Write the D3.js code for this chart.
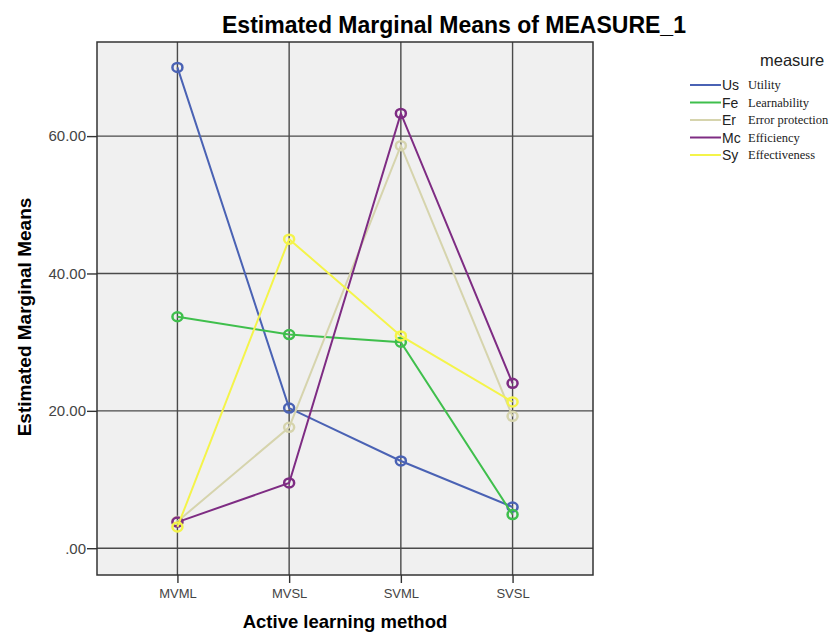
<!DOCTYPE html>
<html>
<head>
<meta charset="utf-8">
<script src="https://cdn.jsdelivr.net/npm/d3@7"></script>
<style>
  body { margin: 0; background: #fff; }
  svg { display: block; }
</style>
</head>
<body>
<script>
'use strict';

var categories = ["MVML", "MVSL", "SVML", "SVSL"];
var seriesNames = ["Utility", "Learnability", "Error protection", "Efficiency", "Effectiveness"];
var seriesShort = ["Us", "Fe", "Er", "Mc", "Sy"];
var seriesColors = ["#4a62b4", "#3fbf4c", "#d6d4ad", "#7e2c83", "#f4f44a"];
var utility = [70.0, 20.4, 12.7, 6.0];
var learnability = [33.7, 31.1, 30.0, 4.9];
var errorProtection = [3.9, 17.6, 58.6, 19.2];
var efficiency = [3.8, 9.5, 63.3, 24.0];
var effectiveness = [3.1, 45.0, 30.9, 21.3];
var yTicks = [0, 20, 40, 60];

var seriesValues = [utility, learnability, errorProtection, efficiency, effectiveness];

var width = 832, height = 633;
var margin = {top: 42, right: 239, bottom: 58, left: 97};
var font = "Liberation Sans, Arial, sans-serif";

var svg = d3.select("body").append("svg")
    .attr("width", width)
    .attr("height", height);

var x = d3.scalePoint()
    .domain(categories)
    .range([margin.left, width - margin.right])
    .padding(0.72);

var y = d3.scaleLinear()
    .domain([-3.9, 73.7])
    .range([height - margin.bottom, margin.top]);

// plot background
svg.append("rect")
    .attr("x", margin.left)
    .attr("y", margin.top)
    .attr("width", width - margin.left - margin.right)
    .attr("height", height - margin.top - margin.bottom)
    .attr("fill", "#f0f0f0");

// grid lines
var grid = svg.append("g").attr("stroke", "#4a4a4a").attr("stroke-width", 1.4);
grid.selectAll(".hg").data(yTicks).enter().append("line")
    .attr("x1", margin.left).attr("x2", width - margin.right)
    .attr("y1", function(d) { return y(d); })
    .attr("y2", function(d) { return y(d); });
grid.selectAll(".vg").data(categories).enter().append("line")
    .attr("x1", function(d) { return x(d); })
    .attr("x2", function(d) { return x(d); })
    .attr("y1", margin.top).attr("y2", height - margin.bottom);

// axes
var yAxis = d3.axisLeft(y)
    .tickValues(yTicks)
    .tickSize(10)
    .tickPadding(1)
    .tickFormat(function(d) { return d === 0 ? ".00" : d3.format(".2f")(d); });

var xAxis = d3.axisBottom(x)
    .tickSize(8)
    .tickPadding(6);

var gy = svg.append("g")
    .attr("transform", "translate(" + margin.left + ",0)")
    .call(yAxis);
gy.select(".domain").remove();

var gx = svg.append("g")
    .attr("transform", "translate(0," + (height - margin.bottom) + ")")
    .call(xAxis);
gx.select(".domain").remove();

[gx, gy].forEach(function(g) {
    g.selectAll("line").attr("stroke", "#333").attr("stroke-width", 1.4);
    g.selectAll("text")
        .attr("fill", "#444")
        .style("font-family", font)
        .style("font-size", "13px");
});
gy.selectAll("text").style("font-size", "15px");

// frame
svg.append("rect")
    .attr("x", margin.left)
    .attr("y", margin.top)
    .attr("width", width - margin.left - margin.right)
    .attr("height", height - margin.top - margin.bottom)
    .attr("fill", "none")
    .attr("stroke", "#333")
    .attr("stroke-width", 1.5);

// lines and markers
var line = d3.line()
    .x(function(d, i) { return x(categories[i]); })
    .y(function(d) { return y(d); });

seriesValues.forEach(function(vals, s) {
    svg.append("path")
        .datum(vals)
        .attr("d", line)
        .attr("fill", "none")
        .attr("stroke", seriesColors[s])
        .attr("stroke-width", 2);

    svg.selectAll(".pt" + s).data(vals).enter().append("ellipse")
        .attr("cx", function(d, i) { return x(categories[i]); })
        .attr("cy", function(d) { return y(d); })
        .attr("rx", 5)
        .attr("ry", 4.5)
        .attr("fill", "none")
        .attr("stroke", seriesColors[s])
        .attr("stroke-width", 2.5);
});

// title and axis titles
svg.append("text")
    .attr("x", 454)
    .attr("y", 33)
    .attr("text-anchor", "middle")
    .style("font-family", font)
    .style("font-weight", "bold")
    .style("font-size", "23px")
    .text("Estimated Marginal Means of MEASURE_1");

svg.append("text")
    .attr("transform", "translate(31,317) rotate(-90)")
    .attr("text-anchor", "middle")
    .style("font-family", font)
    .style("font-weight", "bold")
    .style("font-size", "19px")
    .text("Estimated Marginal Means");

svg.append("text")
    .attr("x", 345)
    .attr("y", 628)
    .attr("text-anchor", "middle")
    .style("font-family", font)
    .style("font-weight", "bold")
    .style("font-size", "18.5px")
    .text("Active learning method");

// legend
var legend = svg.append("g");
legend.append("text")
    .attr("x", 760)
    .attr("y", 66)
    .style("font-family", font)
    .style("font-size", "16.5px")
    .attr("fill", "#222")
    .text("measure");

var rows = legend.selectAll(".row").data(seriesNames).enter().append("g")
    .attr("transform", function(d, i) { return "translate(690," + (85 + i * 17.5) + ")"; });

rows.append("line")
    .attr("x1", 0).attr("x2", 31)
    .attr("stroke", function(d, i) { return seriesColors[i]; })
    .attr("stroke-width", 2);

rows.append("text")
    .attr("x", 32)
    .attr("y", 5)
    .style("font-family", font)
    .style("font-size", "14px")
    .attr("fill", "#222")
    .text(function(d, i) { return seriesShort[i]; });

rows.append("text")
    .attr("x", 58)
    .attr("y", 4)
    .style("font-family", "Liberation Serif, Times New Roman, serif")
    .style("font-size", "12.5px")
    .attr("fill", "#222")
    .text(function(d) { return d; });
</script>
</body>
</html>
